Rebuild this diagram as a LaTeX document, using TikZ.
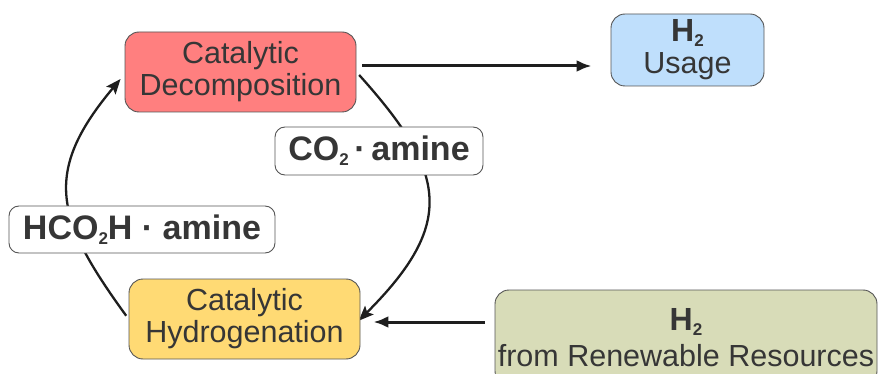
\documentclass[tikz,border=0pt]{standalone}
\usepackage{fontspec}
\setmainfont{Liberation Sans}
\usetikzlibrary{arrows.meta,backgrounds}
\definecolor{decred}{HTML}{FF7F7F}
\definecolor{useblue}{HTML}{BFDFFC}
\definecolor{hydyel}{HTML}{FFDA74}
\definecolor{renolive}{HTML}{D8DCB8}
\definecolor{boxline}{HTML}{555555}
\definecolor{txt}{HTML}{363636}
\definecolor{arr}{HTML}{1E1E1E}
\newcommand\chemsub[1]{\raisebox{-5pt}{\fontsize{17}{17}\selectfont #1}}
\begin{document}
\begin{tikzpicture}[x=1pt,y=1pt,
  box/.style={draw=boxline,line width=0.9pt,rounded corners=14pt,align=center,
    inner sep=0pt,text=txt,font=\fontsize{30.5}{32}\selectfont},
  tag/.style={box,fill=white,rounded corners=10pt,font=\bfseries\fontsize{34}{36}\selectfont},
  flow/.style={draw=arr,line width=3pt,-{Latex[length=15pt,width=12pt]}},
  cyc/.style={draw=arr,line width=2.3pt,-{Stealth[length=15pt,width=12pt,inset=3pt]}}]
  \useasboundingbox (0,0) rectangle (878,-374);
  \clip (0,0) rectangle (878,-374);
  % boxes
  \node[box,fill=decred,minimum width=231,minimum height=80] (decomp) at (240.5,-72)
    {Catalytic\\Decomposition};
  \node[box,fill=useblue,minimum width=153,minimum height=72] (usage) at (687.5,-50)
    {{\bfseries\fontsize{32}{32}\selectfont H\chemsub{2}}\\Usage};
  \node[box,fill=hydyel,minimum width=231,minimum height=80] (hydro) at (244.5,-319)
    {Catalytic\\Hydrogenation};
  \node[box,fill=renolive,minimum width=382,minimum height=95] (renew) at (686,-337.5)
    {{\bfseries\fontsize{32}{32}\selectfont H\chemsub{2}}\\[4pt]from Renewable Resources};
  \node[tag,minimum width=208,minimum height=48] (co2) at (379,-151) {CO\chemsub{2}\,·\,amine};
  \node[tag,minimum width=266,minimum height=47] (hcooh) at (142,-229.5) {HCO\chemsub{2}H · amine};
  % arrows
  \draw[flow,shorten <=6pt,shorten >=19pt] ([yshift=6pt]decomp.east) -- ([yshift=6pt]decomp.east -| usage.west);
  \draw[flow,shorten <=10pt,shorten >=13pt] ([yshift=15.5pt]renew.west) -- ([yshift=15.5pt]renew.west -| hydro.east);
  % cycle
  \begin{scope}[on background layer]
    \draw[cyc,shorten <=4pt,shorten >=-2.5pt] (decomp.east) to[out=-48,in=45,looseness=1.4] (hydro.east);
    \draw[cyc,shorten <=4pt] (hydro.west) to[out=126,in=-130,looseness=1.31] ([xshift=-4pt,yshift=-7pt]decomp.west);
  \end{scope}
\end{tikzpicture}
\end{document}
